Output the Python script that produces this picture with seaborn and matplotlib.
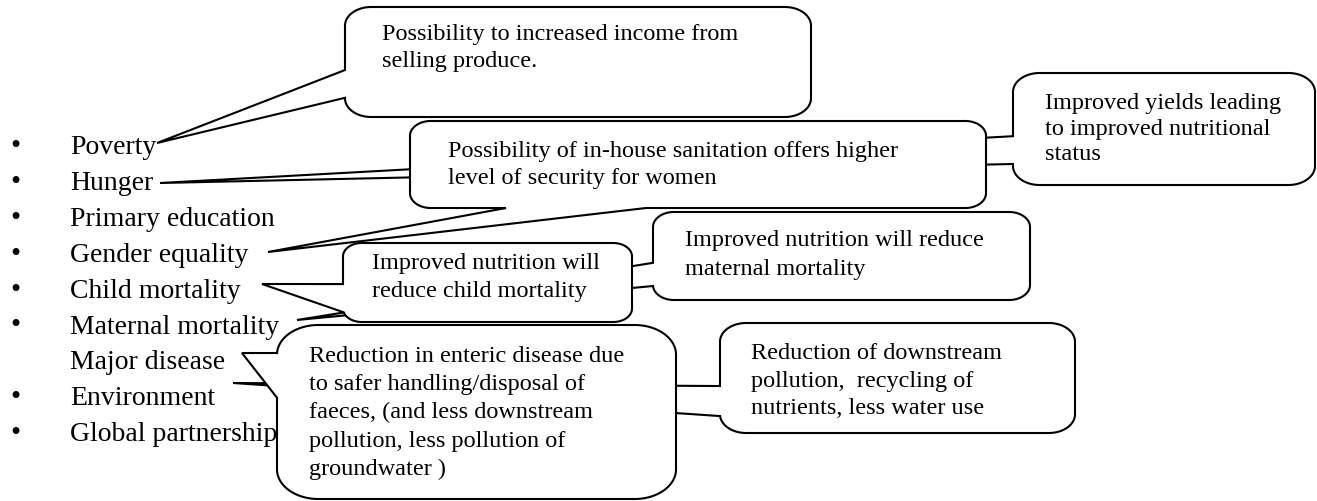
import numpy as np
import matplotlib
matplotlib.use("Agg")
import matplotlib.pyplot as plt
import seaborn as sns
from matplotlib.patches import Polygon

# goals listed on the left
goals = ["Poverty", "Hunger", "Primary education", "Gender equality",
         "Child mortality", "Maternal mortality", "Major disease",
         "Environment", "Global partnership"]
has_bullet = [True, True, True, True, True, True, False, True, True]

# callout texts
income_text = "Possibility to increased income from\nselling produce."
sanitation_text = "Possibility of in-house sanitation offers higher\nlevel of security for women"
yields_text = "Improved yields leading\nto improved nutritional\nstatus"
child_text = "Improved nutrition will\nreduce child mortality"
maternal_text = "Improved nutrition will reduce\nmaternal mortality"
disease_text = ("Reduction in enteric disease due\nto safer handling/disposal of\n"
                "faeces, (and less downstream\npollution, less pollution of\ngroundwater )")
downstream_text = "Reduction of downstream\npollution,  recycling of\nnutrients, less water use"

W, H = 1317, 501

sns.set_theme(style="white")
plt.rcParams['font.family'] = ['Liberation Serif', 'DejaVu Serif']

fig = plt.figure(figsize=(W / 100, H / 100), dpi=100)
ax = fig.add_axes([0, 0, 1, 1])
ax.set_xlim(0, W)
ax.set_ylim(H, 0)
ax.axis("off")


def outline(x0, y0, x1, y1, rx, ry, n=150):
    xm = (x0 + x1) / 2
    segs = []

    def line(a, b):
        t = np.linspace(0, 1, n)
        return np.column_stack([a[0] + (b[0] - a[0]) * t, a[1] + (b[1] - a[1]) * t])

    def arc(cx, cy, t0, t1):
        t = np.linspace(t0, t1, n)
        return np.column_stack([cx + rx * np.cos(t), cy + ry * np.sin(t)])

    segs.append(line((xm, y0), (x1 - rx, y0)))
    segs.append(arc(x1 - rx, y0 + ry, -np.pi / 2, 0))
    segs.append(line((x1, y0 + ry), (x1, y1 - ry)))
    segs.append(arc(x1 - rx, y1 - ry, 0, np.pi / 2))
    segs.append(line((x1 - rx, y1), (x0 + rx, y1)))
    segs.append(arc(x0 + rx, y1 - ry, np.pi / 2, np.pi))
    segs.append(line((x0, y1 - ry), (x0, y0 + ry)))
    segs.append(arc(x0 + rx, y0 + ry, np.pi, 1.5 * np.pi))
    segs.append(line((x0 + rx, y0), (xm, y0)))
    return np.vstack(segs)


def callout(box, tip, base, text, txt_xy, pitch, z):
    x0, y0, x1, y1 = box
    ry = min(x1 - x0, y1 - y0) * 0.17
    rx = ry * 1.4
    pts = outline(x0, y0, x1, y1, rx, ry)
    idx = sorted(int(np.argmin(np.hypot(pts[:, 0] - bx, pts[:, 1] - by))) for bx, by in base)
    poly = np.vstack([pts[:idx[0] + 1], [tip], pts[idx[1]:]])
    ax.add_patch(Polygon(poly, closed=True, facecolor="white", edgecolor="black",
                         lw=1.5, joinstyle="miter", zorder=z))
    for k, line_txt in enumerate(text.split("\n")):
        ax.text(txt_xy[0], txt_xy[1] + k * pitch, line_txt, fontsize=17.5,
                ha="left", va="baseline", color="black", zorder=z + 0.5)


# left list
for i, (g, b) in enumerate(zip(goals, has_bullet)):
    y = 154 + 35.9 * i
    if b:
        ax.text(15, y, "\u2022", fontsize=21, ha="center", va="baseline", color="black", zorder=1)
    ax.text(70, y, g, fontsize=20, ha="left", va="baseline", color="black", zorder=1)

callout((1013, 73, 1315, 185), (160, 183), [(1013, 136), (1013, 164)],
        yields_text, (1045, 109), 25.5, 2)
callout((345, 7, 811, 117), (157, 143), [(345, 70), (345, 98)],
        income_text, (382, 40), 27, 3)
callout((410, 121, 986, 208), (268, 252), [(507, 208), (647, 208)],
        sanitation_text, (448, 157), 27, 4)
callout((653, 212, 1030, 300), (297, 320), [(653, 263), (653, 286)],
        maternal_text, (685, 246), 29, 5)
callout((343, 243, 632, 322), (262, 284), [(343, 284), (347, 311)],
        child_text, (372, 269), 28, 6)
callout((720, 323, 1075, 433), (233, 383), [(720, 386), (720, 416)],
        downstream_text, (751, 359), 27.5, 7)
callout((277, 325, 676, 499), (242, 353), [(277, 353), (277, 398)],
        disease_text, (309, 362), 28.2, 8)

fig.savefig("out.png", dpi=100, facecolor="white")
